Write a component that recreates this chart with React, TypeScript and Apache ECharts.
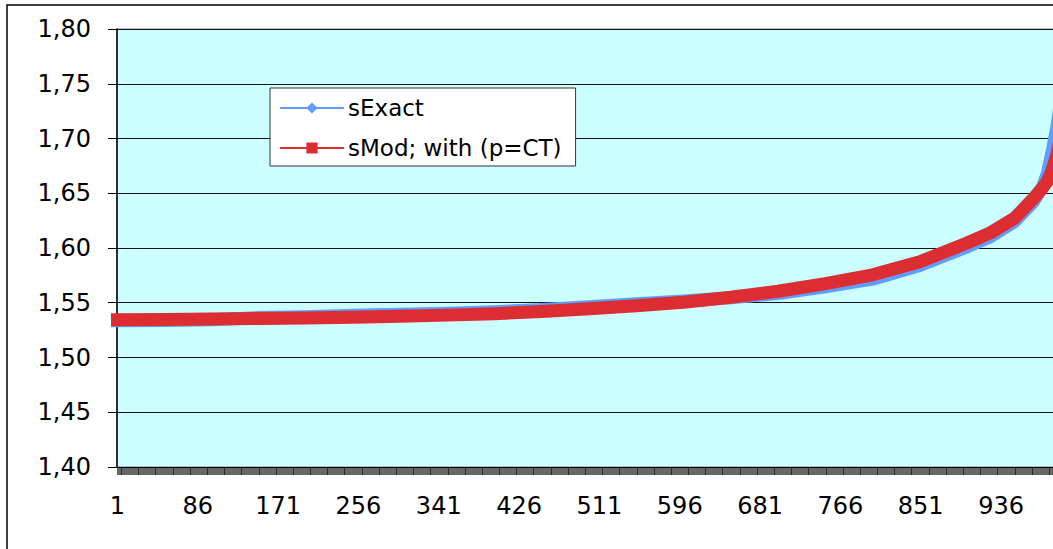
import React, { useEffect, useRef } from "react";
import * as echarts from "echarts";

// Category axis: 1 .. 1000 (labels shown every 85th: 1, 86, 171, ... 936)
const categoryCount = 1000;
const categories: string[] = Array.from({ length: categoryCount }, (_, i) => String(i + 1));

const sampleCats = [1, 50, 100, 150, 200, 250, 300, 350, 400, 450, 500, 550, 600, 650, 700, 750, 800, 850, 900, 925, 950, 970, 980, 985, 990, 995, 1000];

const sExact = [1.5335, 1.5338, 1.5345, 1.5365, 1.5372, 1.5385, 1.5395, 1.5405, 1.5418, 1.5438, 1.5463, 1.549, 1.5515, 1.5545, 1.5585, 1.5645, 1.5715, 1.584, 1.601, 1.6105, 1.624, 1.642, 1.656, 1.668, 1.688, 1.71, 1.74];
const sMod = [1.5345, 1.5348, 1.5352, 1.5356, 1.5361, 1.5368, 1.5377, 1.5387, 1.54, 1.542, 1.5445, 1.5472, 1.5505, 1.555, 1.5605, 1.5675, 1.5755, 1.5875, 1.6045, 1.614, 1.627, 1.645, 1.655, 1.661, 1.671, 1.685, 1.705];

const seriesNames = ["sExact", "sMod; with (p=CT)"];
const yMin = 1.4;
const yMax = 1.8;
const yStep = 0.05;

const FONT = "DejaVu Sans";
const CHART_W = 1072;
const CHART_H = 549;

export default function App() {
  const ref = useRef<HTMLDivElement>(null);
  useEffect(() => {
    if (!ref.current) return;
    const chart = echarts.init(ref.current, null, { renderer: "svg" });
    const toPairs = (vals: number[]) => sampleCats.map((c, i) => [String(c), vals[i]]);
    chart.setOption({
      animation: false,
      backgroundColor: "#ffffff",
      graphic: [
        {
          type: "rect",
          shape: { x: 7, y: 5, width: 1200, height: 700 },
          style: { fill: "none", stroke: "#000", lineWidth: 1.5 },
          z: 100,
          silent: true,
        },
      ],
      grid: {
        left: 117,
        top: 29,
        bottom: 82,
        right: CHART_W - 1062,
        show: true,
        backgroundColor: "#CCFFFF",
        borderColor: "#808080",
        borderWidth: 1,
      },
      legend: {
        orient: "vertical",
        left: 270,
        top: 88,
        padding: [8, 14, 6, 10],
        backgroundColor: "#ffffff",
        borderColor: "#333333",
        borderWidth: 1,
        itemWidth: 62,
        itemHeight: 14,
        itemGap: 16,
        lineStyle: { width: 2 },
        textStyle: { fontFamily: FONT, fontSize: 23, color: "#000", lineHeight: 24 },
        data: seriesNames,
      },
      xAxis: {
        type: "category",
        data: categories,
        boundaryGap: true,
        axisLine: { show: true, lineStyle: { color: "#000", width: 1 } },
        axisTick: { show: true, interval: 0, length: 8, lineStyle: { color: "#000", width: 0.6 } },
        axisLabel: {
          interval: 84,
          margin: 27,
          fontFamily: FONT,
          fontSize: 24,
          color: "#000",
        },
        splitLine: { show: false },
      },
      yAxis: {
        type: "value",
        min: yMin,
        max: yMax,
        interval: yStep,
        axisLine: { show: true, lineStyle: { color: "#000", width: 1.5 } },
        axisTick: { show: true, length: 9, lineStyle: { color: "#000", width: 1 } },
        axisLabel: {
          margin: 26,
          fontFamily: FONT,
          fontSize: 24,
          color: "#000",
          formatter: (v: number) => v.toFixed(2).replace(".", ","),
        },
        splitLine: { show: true, lineStyle: { color: "#111", width: 1 } },
      },
      series: [
        {
          name: seriesNames[0],
          type: "line",
          data: toPairs(sExact),
          symbol: "diamond",
          showSymbol: false,
          color: "#5F9DFF",
          lineStyle: { color: "#5F9DFF", width: 13, cap: "square", join: "round" },
          itemStyle: { color: "#5F9DFF" },
        },
        {
          name: seriesNames[1],
          type: "line",
          data: toPairs(sMod),
          symbol: "rect",
          showSymbol: false,
          color: "#DC2D32",
          lineStyle: { color: "#DC2D32", width: 13, cap: "square", join: "round" },
          itemStyle: { color: "#DC2D32" },
        },
      ],
    });
    return () => chart.dispose();
  }, []);
  return (
    <div
      style={{ position: "fixed", left: 0, top: 0, width: 1053, height: 549, overflow: "hidden" }}
    >
      <div ref={ref} style={{ width: CHART_W, height: CHART_H }} />
    </div>
  );
}
